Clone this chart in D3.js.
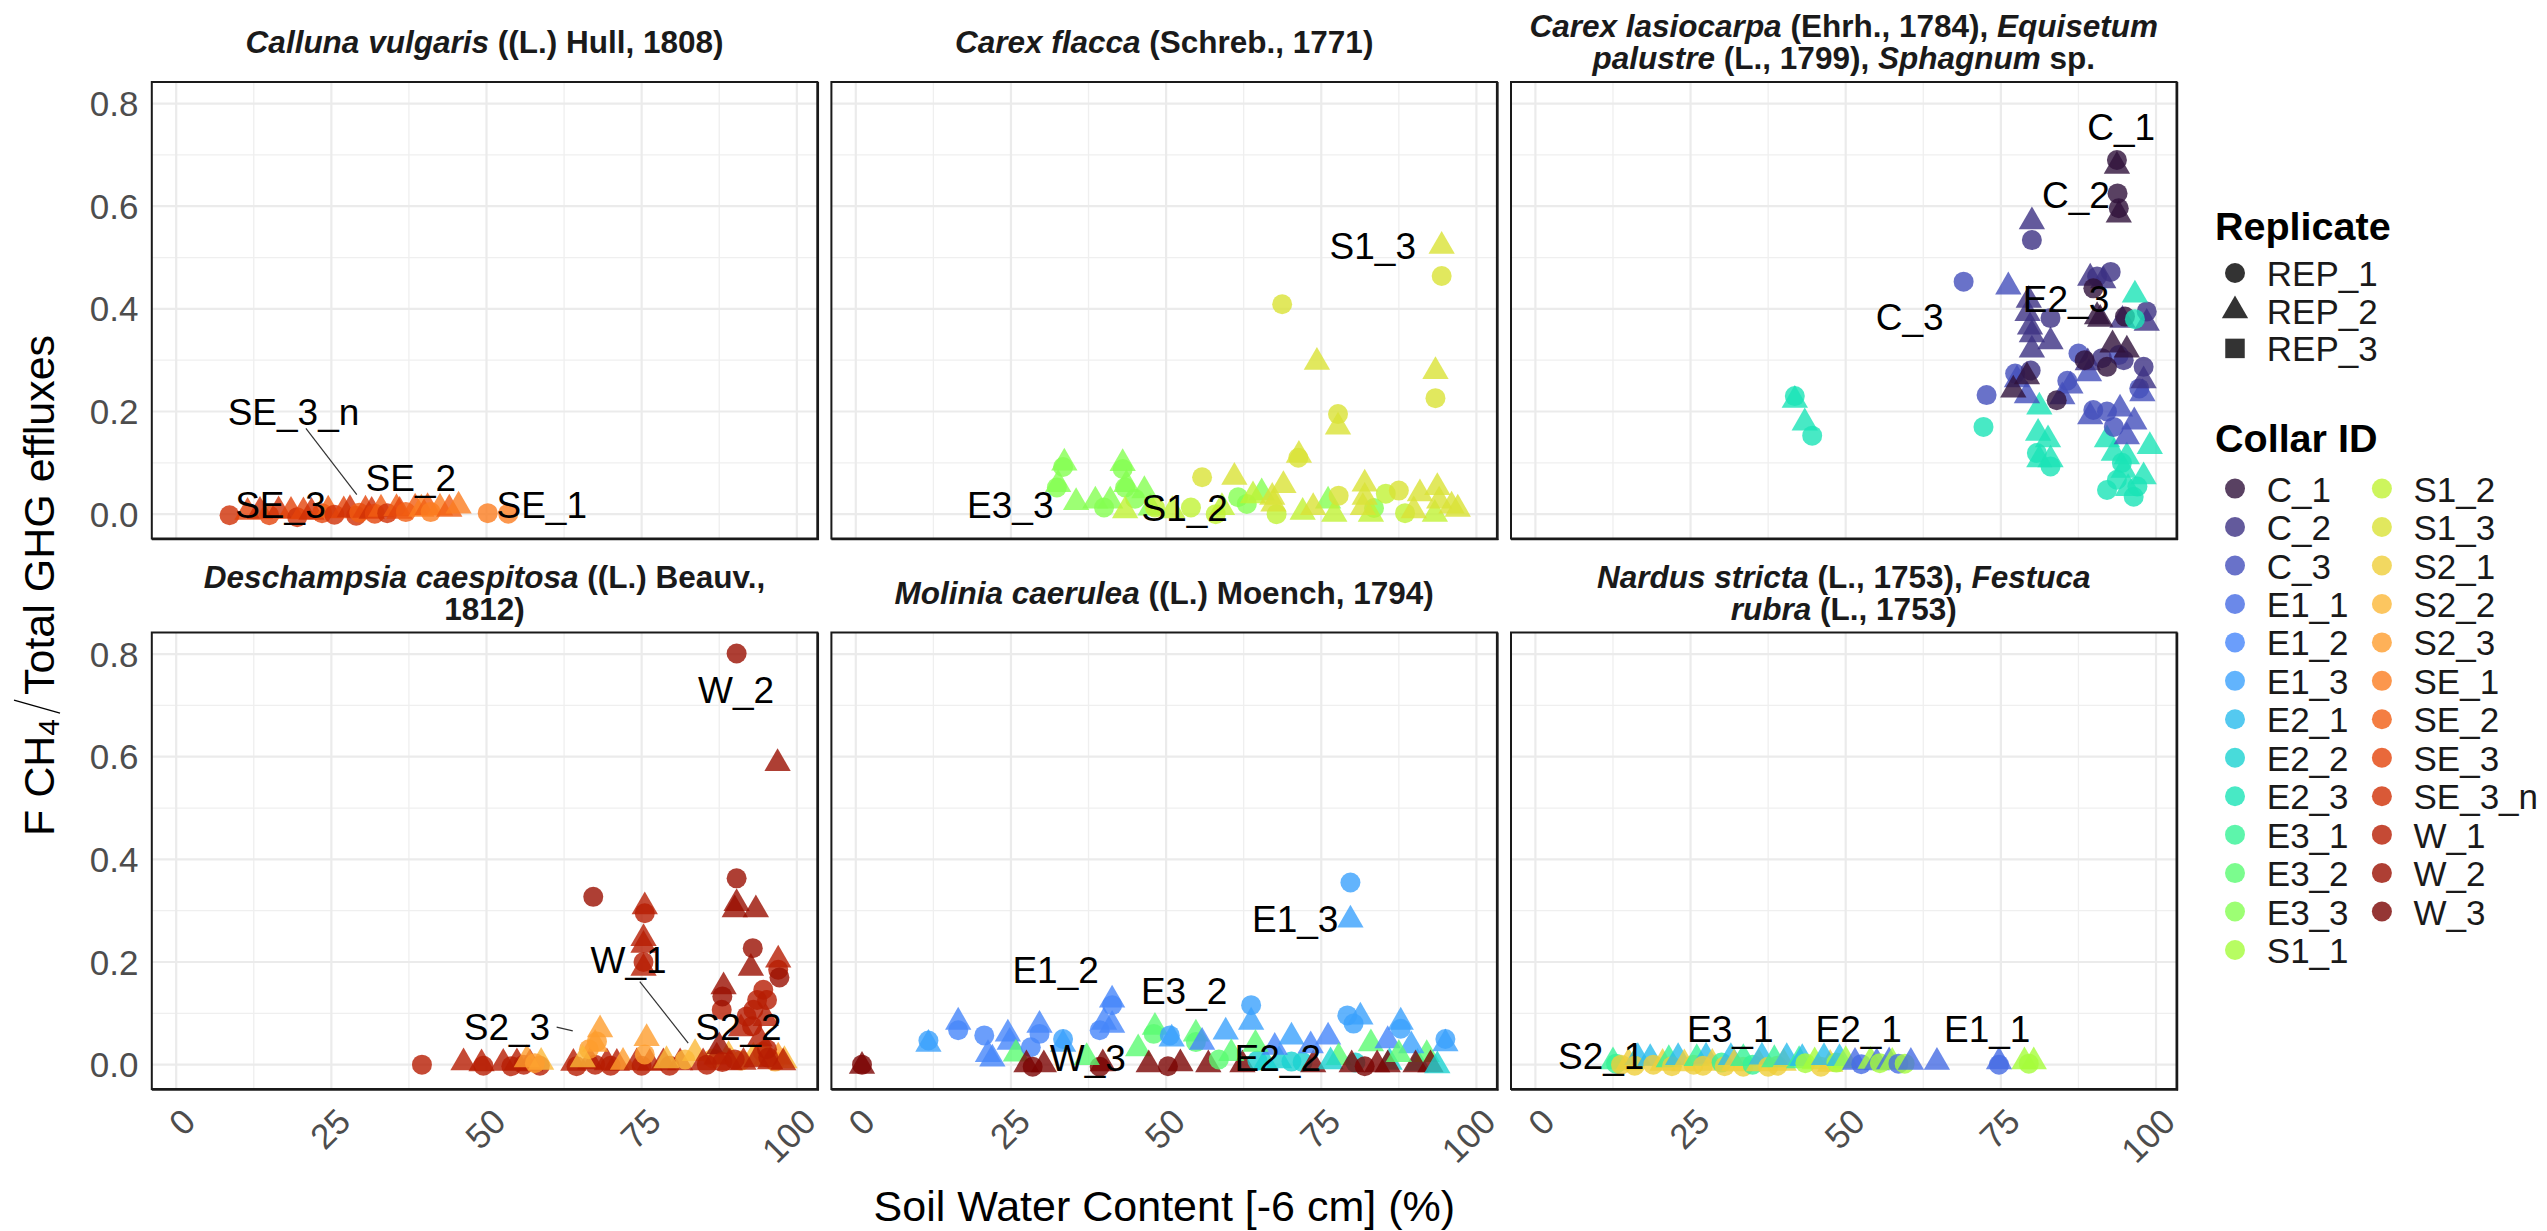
<!DOCTYPE html>
<html>
<head>
<meta charset="utf-8">
<script src="https://cdn.jsdelivr.net/npm/d3@7"></script>
<style>
  body { margin: 0; background: #ffffff; }
  svg { display: block; }
  text { font-family: "Liberation Sans", Arial, sans-serif; white-space: pre; }
</style>
</head>
<body>
<svg id="chart" width="2547" height="1231"></svg>
<script>
// ---------------- DATA ----------------
const collarIds = ["C_1","C_2","C_3","E1_1","E1_2","E1_3","E2_1","E2_2","E2_3","E3_1","E3_2","E3_3",
  "S1_1","S1_2","S1_3","S2_1","S2_2","S2_3","SE_1","SE_2","SE_3","SE_3_n","W_1","W_2","W_3"];
const collarColors = ["#30123B","#3C3183","#434FBB","#466BE3","#4686FA","#3BA1FD","#29BBEC","#1AD2D1",
  "#1AE4B6","#34F396","#5AFB72","#84FF51","#A5FC3B","#C1F234","#DAE236","#EFCE3A","#FBB838","#FE9D2E",
  "#FB7D20","#F15E13","#E3440A","#D02F05","#B71D02","#9A0F01","#7A0403"];
const replicateIds = ["REP_1","REP_2","REP_3"];
const xTickValues = [0, 25, 50, 75, 100];
const yTickValues = [0, 0.2, 0.4, 0.6, 0.8];
const yTickLabels = ["0.0","0.2","0.4","0.6","0.8"];

// panel titles: lines of [text, italic]
const titleCalluna = [[["Calluna vulgaris",1],[" ((L.) Hull, 1808)",0]]];
const titleCarexFlacca = [[["Carex flacca",1],[" (Schreb., 1771)",0]]];
const titleCarexLasio = [[["Carex lasiocarpa",1],[" (Ehrh., 1784), ",0],["Equisetum",1]],
                         [["palustre",1],[" (L., 1799), ",0],["Sphagnum",1],[" sp.",0]]];
const titleDeschampsia = [[["Deschampsia caespitosa",1],[" ((L.) Beauv.,",0]],[["1812)",0]]];
const titleMolinia = [[["Molinia caerulea",1],[" ((L.) Moench, 1794)",0]]];
const titleNardus = [[["Nardus stricta",1],[" (L., 1753), ",0],["Festuca",1]],[["rubra",1],[" (L., 1753)",0]]];

// points: [collar, replicate, soil water content, ratio]
const pointsCalluna = [
 ["SE_3_n",1,8.6,-0.002],["SE_3",2,11.5,0.004],["SE_3_n",2,13.5,0.006],["SE_3",1,15.0,-0.002],
 ["SE_3_n",2,16.5,0.007],["SE_3",2,18.5,0.006],["SE_3_n",1,19.5,-0.006],["SE_3",2,20.5,0.005],
 ["SE_3_n",2,21.8,0.004],["SE_3",1,23.5,0.002],["SE_2",2,24.5,0.008],["SE_3_n",1,25.5,-0.001],
 ["SE_3",2,27.0,0.007],["SE_3_n",2,28.0,0.009],["SE_3_n",1,29.0,-0.003],["SE_2",1,29.5,0.003],
 ["SE_3",2,30.5,0.008],["SE_3_n",2,31.5,0.006],["SE_3",1,32.0,0.001],["SE_2",2,33.0,0.010],
 ["SE_3_n",1,34.0,0.002],["SE_2",2,35.5,0.011],["SE_3",2,36.0,0.006],["SE_2",1,37.0,0.004],
 ["SE_2",2,38.5,0.012],["SE_1",2,39.5,0.010],["SE_2",2,40.5,0.013],["SE_1",1,41.0,0.004],
 ["SE_1",2,42.5,0.012],["SE_2",2,44.0,0.010],["SE_1",2,45.5,0.016],["SE_1",1,50.2,0.002],
 ["SE_1",1,53.5,0.001]
];
const pointsCarexFlacca = [
 ["E3_3",1,33.4,0.092],["E3_3",2,33.6,0.100],["E3_3",1,32.4,0.052],["E3_3",2,32.6,0.058],
 ["E3_3",2,35.5,0.023],["E3_3",2,38.6,0.026],["E3_3",1,40.0,0.013],["E3_3",2,41.0,0.026],
 ["E3_3",1,43.0,0.088],["E3_3",2,43.0,0.099],["E3_3",1,43.4,0.052],["E3_3",2,43.6,0.058],
 ["E3_3",2,46.5,0.046],["E3_3",1,45.0,0.030],["E3_3",1,61.6,0.033],["E3_3",2,65.4,0.042],
 ["E3_3",1,63.0,0.020],["E3_3",2,76.1,0.026],["E3_3",1,83.5,0.012],["E3_3",2,47.5,0.012],
 ["S1_2",2,43.4,0.007],["S1_2",1,48.2,0.013],["S1_2",2,51.0,0.007],["S1_2",1,54.0,0.013],
 ["S1_2",2,59.0,0.013],["S1_2",2,64.0,0.036],["S1_2",1,67.8,0.000],["S1_2",2,77.1,0.000],
 ["S1_2",2,83.0,0.000],["S1_2",1,85.4,0.040],["S1_2",2,93.3,0.000],["S1_2",1,58.0,0.000],
 ["S1_2",2,72.0,0.004],["S1_2",1,88.5,0.002],
 ["S1_3",1,55.8,0.072],["S1_3",2,61.0,0.072],["S1_3",2,67.1,0.033],["S1_3",2,67.3,0.020],
 ["S1_3",2,68.9,0.056],["S1_3",1,71.3,0.110],["S1_3",2,71.4,0.115],["S1_3",2,73.7,0.013],
 ["S1_3",1,77.7,0.195],["S1_3",2,77.7,0.170],["S1_3",1,77.8,0.036],["S1_3",2,82.0,0.059],
 ["S1_3",2,82.0,0.033],["S1_3",2,81.7,0.013],["S1_3",1,87.5,0.046],["S1_3",2,90.9,0.040],
 ["S1_3",2,89.9,0.007],["S1_3",2,93.7,0.052],["S1_3",2,94.0,0.026],["S1_3",2,96.0,0.016],
 ["S1_3",2,97.0,0.010],["S1_3",1,68.7,0.409],["S1_3",2,74.3,0.296],["S1_3",2,93.4,0.278],
 ["S1_3",1,93.4,0.226],["S1_3",2,94.4,0.522],["S1_3",1,94.4,0.464]
];
const pointsCarexLasio = [
 ["E2_3",1,41.8,0.230],["E2_3",2,41.8,0.222],["E2_3",2,43.4,0.178],["E2_3",1,44.6,0.153],
 ["E2_3",2,81.2,0.209],["E2_3",1,72.2,0.170],["E2_3",2,81.0,0.158],["E2_3",2,82.6,0.145],
 ["E2_3",1,80.8,0.119],["E2_3",2,83.0,0.106],["E2_3",2,81.2,0.106],["E2_3",1,83.0,0.093],
 ["E2_3",2,92.1,0.145],["E2_3",2,93.2,0.119],["E2_3",2,95.3,0.112],["E2_3",2,99.0,0.132],
 ["E2_3",1,93.7,0.067],["E2_3",1,92.1,0.047],["E2_3",1,96.4,0.034],["E2_3",2,94.8,0.086],
 ["E2_3",2,98.0,0.073],["E2_3",1,97.0,0.054],["E2_3",2,95.5,0.050],["E2_3",1,94.5,0.100],
 ["C_3",1,69.0,0.453],["C_3",2,76.2,0.443],["C_3",1,72.7,0.232],["C_3",1,77.3,0.274],
 ["C_3",2,77.6,0.262],["C_3",2,79.2,0.231],["C_3",1,87.5,0.313],["C_3",1,85.7,0.260],
 ["C_3",2,86.2,0.250],["C_3",2,84.9,0.229],["C_3",2,89.2,0.274],["C_3",1,89.9,0.203],
 ["C_3",1,92.1,0.200],["C_3",2,94.2,0.205],["C_3",2,89.4,0.190],["C_3",2,95.3,0.151],
 ["C_3",1,97.3,0.245],["C_3",2,97.8,0.235],["C_3",1,93.2,0.170],["C_3",1,94.0,0.310],
 ["C_3",2,96.5,0.180],
 ["C_2",2,80.0,0.570],["C_2",1,80.0,0.534],["C_2",1,90.5,0.463],["C_2",1,92.7,0.472],
 ["C_2",2,89.4,0.460],["C_2",2,79.5,0.417],["C_2",2,79.3,0.391],["C_2",2,79.7,0.365],
 ["C_2",2,80.0,0.320],["C_2",1,83.0,0.382],["C_2",2,83.0,0.336],["C_2",1,98.0,0.287],
 ["C_2",1,91.3,0.304],["C_2",1,94.8,0.300],["C_2",2,89.0,0.295],["C_2",2,80.0,0.350],
 ["C_2",2,98.0,0.260],["C_2",2,94.6,0.378],["C_2",2,98.5,0.372],["C_2",1,98.5,0.395],
 ["C_2",1,79.8,0.280],["C_2",2,91.5,0.455],
 ["C_1",1,93.7,0.690],["C_1",2,93.7,0.678],["C_1",1,93.8,0.625],["C_1",1,94.0,0.596],
 ["C_1",2,94.0,0.583],["C_1",2,90.5,0.385],["C_1",2,91.0,0.380],["C_1",2,79.2,0.268],
 ["C_1",2,77.0,0.242],["C_1",1,84.0,0.222],["C_1",1,92.1,0.287],["C_1",2,95.3,0.320],
 ["C_1",1,95.0,0.385],["C_1",1,89.9,0.440],["C_1",2,93.0,0.330],["C_1",1,88.5,0.300],
 ["E2_3",2,96.6,0.427],["E2_3",1,96.6,0.380]
];
const pointsDeschampsia = [
 ["W_1",1,39.6,0.000],["W_1",2,46.3,0.004],["W_1",2,49.2,0.002],["W_1",1,49.5,-0.002],
 ["W_1",2,52.7,0.003],["W_1",1,54.0,-0.003],["W_1",2,54.9,0.004],["W_1",1,56.0,0.000],
 ["W_1",2,57.0,0.002],["W_1",1,58.6,-0.002],["S2_3",2,56.5,0.010],["S2_2",2,58.8,0.005],
 ["S2_3",1,57.8,0.003],["W_1",2,64.0,0.003],["W_1",1,64.5,-0.003],["W_1",2,66.7,0.006],
 ["W_1",1,67.5,0.000],["W_1",2,69.4,0.004],["W_1",1,70.0,-0.002],["W_1",2,71.0,0.003],
 ["S2_3",1,66.5,0.030],["S2_3",2,67.5,0.040],["S2_3",2,68.3,0.068],["S2_3",1,67.8,0.045],
 ["S2_2",2,65.5,0.010],["S2_3",2,72.0,0.005],["W_1",2,74.2,0.004],["W_1",1,75.0,-0.002],
 ["W_1",2,76.3,0.003],["W_1",2,78.5,0.004],["W_1",1,79.5,-0.002],["W_1",2,81.2,0.004],
 ["S2_3",2,75.8,0.051],["S2_3",1,75.5,0.020],["S2_2",2,79.0,0.008],["S2_2",2,83.6,0.022],
 ["S2_2",1,82.0,0.010],["S2_2",1,86.5,0.012],["S2_2",2,89.0,0.018],["S2_2",1,91.0,0.008],
 ["S2_2",2,93.0,0.015],["S2_2",2,95.0,0.012],["S2_2",1,96.5,0.006],["S2_2",2,98.0,0.008],
 ["S2_3",2,97.0,0.015],["S2_3",1,94.5,0.025],
 ["W_1",2,84.9,0.004],["W_1",1,85.5,0.000],["W_1",2,87.1,0.015],["W_2",2,87.5,0.035],
 ["W_1",1,88.0,0.005],["W_1",2,89.2,0.004],["W_1",1,90.0,0.010],["W_1",2,91.4,0.005],
 ["W_1",2,93.5,0.010],["W_1",1,95.2,0.030],["W_1",2,95.7,0.006],["W_1",1,95.4,0.014],
 ["W_1",2,97.8,0.004],
 ["W_2",1,90.3,0.801],["W_2",2,96.9,0.587],["W_2",1,67.2,0.327],
 ["W_1",2,75.5,0.308],["W_1",1,75.5,0.295],["W_1",2,75.3,0.246],["W_1",2,75.3,0.233],
 ["W_1",1,75.3,0.200],["W_1",2,75.3,0.188],
 ["W_2",1,90.3,0.363],["W_2",2,90.3,0.314],["W_2",2,90.0,0.302],["W_2",2,93.4,0.302],
 ["W_2",1,92.9,0.227],["W_2",2,92.6,0.188],["W_1",2,97.0,0.204],["W_1",1,97.0,0.185],
 ["W_2",1,97.2,0.170],["W_2",2,88.2,0.152],
 ["W_1",1,94.6,0.146],["W_1",1,95.2,0.126],["W_1",1,93.6,0.126],["W_1",1,93.0,0.107],
 ["W_1",1,91.9,0.094],["W_1",1,87.9,0.107],["W_2",1,88.0,0.133],["W_1",2,91.0,0.070],
 ["W_1",1,92.8,0.075],["W_1",2,95.0,0.090],["W_1",2,94.0,0.050]
];
const pointsMolinia = [
 ["W_3",2,1.0,-0.003],["W_3",1,1.0,0.000],["E1_3",1,11.7,0.047],["E1_3",2,11.7,0.040],
 ["E1_2",2,16.5,0.083],["E1_2",1,16.5,0.067],["E1_2",1,20.7,0.057],["E1_2",2,21.3,0.020],
 ["E1_2",2,22.0,0.011],["E1_2",2,24.5,0.060],["E1_2",2,24.8,0.044],["E1_2",2,29.6,0.077],
 ["E1_2",1,29.6,0.060],["E1_3",1,33.4,0.050],["E1_3",2,33.4,0.040],["E3_2",2,25.8,0.021],
 ["E1_2",1,28.2,0.034],["W_3",2,27.5,0.000],["W_3",2,30.3,0.000],["W_3",1,28.5,-0.004],
 ["E1_2",2,41.3,0.126],["E1_2",1,41.3,0.116],["E1_2",2,40.0,0.083],["E1_2",2,41.3,0.077],
 ["E1_2",1,39.3,0.067],["W_3",1,39.3,-0.004],["W_3",2,39.8,0.002],["E3_2",2,37.2,0.014],
 ["E3_2",2,45.5,0.031],["E3_2",2,48.2,0.073],["E3_2",1,48.0,0.060],["E1_3",1,50.6,0.057],
 ["E1_3",2,50.9,0.050],["W_3",2,47.2,0.000],["W_3",1,50.3,-0.003],["W_3",2,52.3,0.002],
 ["E3_2",2,54.8,0.060],["E3_2",1,54.8,0.044],["E1_3",2,59.6,0.064],["E1_2",2,55.8,0.044],
 ["W_3",2,56.8,0.000],["E1_3",1,63.7,0.116],["E1_3",2,63.7,0.083],["W_3",2,62.3,0.000],
 ["E2_2",1,64.7,0.008],["E2_2",2,68.2,0.008],["E2_2",1,70.2,0.006],["E2_2",2,66.0,0.004],
 ["E2_2",1,72.0,0.005],["E1_2",2,67.5,0.034],["E1_3",2,70.2,0.054],["E3_2",2,64.4,0.040],
 ["W_3",2,73.7,0.000],["E1_2",2,73.3,0.037],["E1_2",2,76.1,0.054],["E1_3",1,79.2,0.096],
 ["E1_3",2,81.3,0.093],["E1_3",1,80.2,0.080],["E3_2",2,77.8,0.014],["E3_2",2,83.0,0.041],
 ["E2_2",2,76.5,0.006],["E2_2",1,80.5,0.004],["E2_2",2,86.0,0.005],["E2_2",2,90.5,0.003],
 ["E3_2",2,60.5,0.022],["E3_2",2,92.0,0.020],["E3_2",1,58.5,0.010],
 ["W_3",2,79.9,0.000],["W_3",1,82.0,-0.003],["W_3",2,84.0,0.000],["W_3",2,85.7,0.000],
 ["E1_3",2,87.8,0.083],["E1_3",1,87.8,0.070],["E1_2",2,85.7,0.047],["E1_3",2,89.5,0.037],
 ["W_3",2,90.2,0.000],["W_3",2,92.6,0.000],["E1_3",1,95.0,0.050],["E1_3",2,95.0,0.041],
 ["E2_2",2,93.7,-0.002],["E3_2",2,87.5,0.020],["E1_3",1,79.7,0.355],["E1_3",2,79.7,0.282]
];
const pointsNardus = [
 ["E3_1",2,12.5,0.006],["E3_1",1,13.0,0.002],["S2_1",1,13.8,0.000],["S2_1",2,15.0,0.004],
 ["E2_1",2,16.5,0.014],["S2_1",1,16.0,-0.002],["E2_1",2,18.5,0.012],["S2_1",1,19.0,0.000],
 ["S2_1",2,20.5,0.003],["E3_1",2,21.5,0.010],["S2_1",1,22.0,-0.003],["E2_1",2,23.0,0.014],
 ["S2_1",2,24.0,0.002],["S2_1",1,25.5,0.000],["E3_1",2,26.0,0.012],["E2_1",2,27.5,0.015],
 ["S2_1",1,27.0,-0.002],["S2_1",2,28.5,0.003],["E3_1",1,30.0,0.004],["S2_1",1,30.5,-0.003],
 ["E2_1",2,31.5,0.014],["S2_1",2,32.0,0.002],["S2_1",1,33.5,-0.004],["E3_1",2,33.5,0.012],
 ["E3_1",1,35.0,0.000],["S2_1",2,36.0,0.002],["E2_1",2,36.5,0.015],["S2_1",1,37.5,-0.004],
 ["S2_1",1,39.0,-0.002],["E3_1",2,38.5,0.010],["S2_1",2,40.0,0.003],["E2_1",2,40.5,0.014],
 ["E3_1",2,42.5,0.008],["E2_1",2,43.0,0.012],["S1_1",1,43.5,0.003],["S1_1",2,45.0,0.006],
 ["S2_1",1,46.0,-0.004],["S2_1",2,47.5,0.001],["E2_1",2,46.5,0.014],["S1_1",1,48.5,0.004],
 ["E2_1",2,49.0,0.012],["S1_1",2,50.0,0.008],["E1_1",2,51.5,0.005],["E1_1",1,52.5,0.001],
 ["S1_1",2,54.0,0.007],["E1_1",2,55.0,0.004],["S1_1",1,55.5,0.003],["E1_1",2,57.0,0.006],
 ["S1_1",2,57.5,0.005],["E1_1",1,58.5,0.002],["S1_1",1,59.5,0.002],["E1_1",2,60.5,0.005],
 ["E1_1",2,64.7,0.005],["E1_1",2,74.7,0.006],["E1_1",1,74.7,0.000],["S1_1",2,78.8,0.006],
 ["S1_1",2,80.3,0.006],["S1_1",1,79.5,0.002]
];

// repelled labels: [text, x, y(baseline), optional segment x1,y1,x2,y2]
const labelsCalluna = [["SE_3_n",18.9,0.174,20.9,0.167,29.1,0.038],["SE_2",37.8,0.045],["SE_3",16.8,-0.007],["SE_1",58.9,-0.007]];
const labelsCarexFlacca = [["S1_3",83.3,0.4975],["E3_3",24.9,-0.0067],["S1_2",53.0,-0.013]];
const labelsCarexLasio = [["C_1",94.4,0.729],["C_2",87.1,0.596],["E2_3",85.5,0.3945],["C_3",60.3,0.358]];
const labelsDeschampsia = [["W_2",90.2,0.704],["W_1",72.9,0.178,74.7,0.162,82.5,0.042],["S2_3",53.3,0.048,61.3,0.073,63.9,0.066],["S2_2",90.6,0.048]];
const labelsMolinia = [["E1_2",32.2,0.159],["E3_2",52.9,0.119],["W_3",37.4,-0.012],["E2_2",68.0,-0.012],["E1_3",70.8,0.258]];
const labelsNardus = [["S2_1",10.6,-0.009],["E3_1",31.4,0.044],["E2_1",52.1,0.044],["E1_1",72.8,0.044]];

// ---------------- DRAWING ----------------
const panels = [
  {title: titleCalluna, pts: pointsCalluna, labels: labelsCalluna},
  {title: titleCarexFlacca, pts: pointsCarexFlacca, labels: labelsCarexFlacca},
  {title: titleCarexLasio, pts: pointsCarexLasio, labels: labelsCarexLasio},
  {title: titleDeschampsia, pts: pointsDeschampsia, labels: labelsDeschampsia},
  {title: titleMolinia, pts: pointsMolinia, labels: labelsMolinia},
  {title: titleNardus, pts: pointsNardus, labels: labelsNardus}
];

const W = 665.5, H = 456.5;
const colLeft = [151.8, 831.4, 1511.0];
const rowTop = [82, 632.5];
const x = d3.scaleLinear().domain([-3.93, 103.3]).range([0, W]);
const y = d3.scaleLinear().domain([-0.0474, 0.842]).range([H, 0]);
const color = d3.scaleOrdinal().domain(collarIds).range(collarColors);
const shape = d3.scaleOrdinal().domain(replicateIds).range([d3.symbolCircle, d3.symbolTriangle, d3.symbolSquare]);
const shapeSize = {REP_1: 314, REP_2: 300, REP_3: 380};
const ALPHA = 0.8;

const svg = d3.select("#chart");
svg.append("rect").attr("width", 2547).attr("height", 1231).attr("fill", "#fff");

const xMinor = [12.5, 37.5, 62.5, 87.5];
const yMinor = [0.1, 0.3, 0.5, 0.7];

panels.forEach((p, i) => {
  const col = i % 3, row = Math.floor(i / 3);
  const g = svg.append("g").attr("transform", `translate(${colLeft[col]},${rowTop[row]})`);

  // minor grid
  g.selectAll(".vmin").data(xMinor).enter().append("line")
    .attr("x1", d => x(d)).attr("x2", d => x(d)).attr("y1", 0).attr("y2", H)
    .attr("stroke", "#EFEFEF").attr("stroke-width", 1.3);
  g.selectAll(".hmin").data(yMinor).enter().append("line")
    .attr("y1", d => y(d)).attr("y2", d => y(d)).attr("x1", 0).attr("x2", W)
    .attr("stroke", "#EFEFEF").attr("stroke-width", 1.3);
  // major grid
  g.selectAll(".vmaj").data(xTickValues).enter().append("line")
    .attr("x1", d => x(d)).attr("x2", d => x(d)).attr("y1", 0).attr("y2", H)
    .attr("stroke", "#EBEBEB").attr("stroke-width", 2.2);
  g.selectAll(".hmaj").data(yTickValues).enter().append("line")
    .attr("y1", d => y(d)).attr("y2", d => y(d)).attr("x1", 0).attr("x2", W)
    .attr("stroke", "#EBEBEB").attr("stroke-width", 2.2);

  // points
  g.selectAll(".pt").data(p.pts).enter().append("path")
    .attr("d", d => d3.symbol().type(shape(replicateIds[d[1]-1])).size(shapeSize[replicateIds[d[1]-1]])())
    .attr("transform", d => `translate(${x(d[2])},${y(d[3])})`)
    .attr("fill", d => color(d[0]))
    .attr("fill-opacity", ALPHA);

  // label segments
  p.labels.filter(l => l.length > 3).forEach(l => {
    g.append("line").attr("x1", x(l[3])).attr("y1", y(l[4])).attr("x2", x(l[5])).attr("y2", y(l[6]))
      .attr("stroke", "#333").attr("stroke-width", 1.2);
  });
  // labels
  g.selectAll(".lab").data(p.labels).enter().append("text")
    .attr("x", d => x(d[1])).attr("y", d => y(d[2]))
    .attr("text-anchor", "middle").attr("font-size", 37).attr("fill", "#000")
    .text(d => d[0]);

  // panel border
  g.append("rect").attr("x", 0).attr("y", 0).attr("width", W).attr("height", H)
    .attr("fill", "none").attr("stroke", "#1a1a1a").attr("stroke-width", 2);
  g.append("line").attr("x1", 0).attr("x2", W + 1.5).attr("y1", H + 1).attr("y2", H + 1)
    .attr("stroke", "#1a1a1a").attr("stroke-width", 1.5);
  g.append("line").attr("x1", W + 1).attr("x2", W + 1).attr("y1", 0).attr("y2", H + 1.5)
    .attr("stroke", "#1a1a1a").attr("stroke-width", 1.5);

  // strip title
  const nLines = p.title.length;
  const center = rowTop[row] - 29;
  p.title.forEach((line, k) => {
    const t = svg.append("text")
      .attr("x", colLeft[col] + W / 2)
      .attr("y", center + (k - (nLines - 1) / 2) * 32)
      .attr("text-anchor", "middle").attr("font-size", 31.5).attr("font-weight", "bold")
      .attr("fill", "#1a1a1a");
    line.forEach(seg => {
      t.append("tspan").attr("font-style", seg[1] ? "italic" : "normal").text(seg[0]);
    });
  });

  // y tick labels (left column)
  if (col === 0) {
    svg.selectAll(null).data(yTickValues).enter().append("text")
      .attr("x", colLeft[0] - 13.3)
      .attr("y", d => rowTop[row] + y(d) + 12.5)
      .attr("text-anchor", "end").attr("font-size", 35).attr("fill", "#4D4D4D")
      .text((d, j) => yTickLabels[j]);
  }
  // x tick labels (bottom row)
  if (row === 1) {
    svg.selectAll(null).data(xTickValues).enter().append("text")
      .attr("transform", d => `translate(${colLeft[col] + x(d) + 3.6},${rowTop[1] + H + 17}) rotate(-45)`)
      .attr("dy", 25)
      .attr("text-anchor", "end").attr("font-size", 35).attr("fill", "#4D4D4D")
      .text(d => d);
  }
});

// x axis title
svg.append("text").attr("x", 1164.3).attr("y", 1221)
  .attr("text-anchor", "middle").attr("font-size", 43).attr("fill", "#000")
  .text("Soil Water Content [-6 cm] (%)");

// y axis title (built from pieces)
const yt = svg.append("g").attr("transform", "translate(54,585.5) rotate(-90)");
const pieces = [];
const t1 = yt.append("text").attr("font-size", 43).attr("fill", "#000").text("F CH");
const t2 = yt.append("text").attr("font-size", 30).attr("fill", "#000").attr("dy", 5).text("4");
const t3 = yt.append("text").attr("font-size", 43).attr("fill", "#000").text("Total GHG effluxes");
const w1 = t1.node().getComputedTextLength();
const w2 = t2.node().getComputedTextLength();
const w3 = t3.node().getComputedTextLength();
const gap1 = 6, slashW = 13, gap2 = 5;
const total = w1 + w2 + gap1 + slashW + gap2 + w3;
let cx = -total / 2;
t1.attr("x", cx); cx += w1;
t2.attr("x", cx); cx += w2 + gap1;
yt.append("line").attr("x1", cx).attr("y1", 6).attr("x2", cx + slashW).attr("y2", -40)
  .attr("stroke", "#000").attr("stroke-width", 1.3);
cx += slashW + gap2;
t3.attr("x", cx);

// ---------------- LEGEND ----------------
const lg = svg.append("g");
lg.append("text").attr("x", 2215).attr("y", 240).attr("font-size", 39.5).attr("font-weight", "bold")
  .attr("fill", "#000").text("Replicate");
const repY = [273, 310.7, 348.4];
replicateIds.forEach((r, k) => {
  lg.append("path").attr("d", d3.symbol().type(shape(r)).size(shapeSize[r])())
    .attr("transform", `translate(2235,${repY[k]})`).attr("fill", "#000").attr("fill-opacity", ALPHA);
  lg.append("text").attr("x", 2266.8).attr("y", repY[k] + 13).attr("font-size", 35)
    .attr("fill", "#1a1a1a").text(r);
});
lg.append("text").attr("x", 2215).attr("y", 452).attr("font-size", 39.5).attr("font-weight", "bold")
  .attr("fill", "#000").text("Collar ID");
collarIds.forEach((c, k) => {
  const colIdx = k < 13 ? 0 : 1;
  const rowIdx = k < 13 ? k : k - 13;
  const cy = 488.6 + rowIdx * 38.45;
  const kx = colIdx === 0 ? 2235 : 2381.9;
  const tx = colIdx === 0 ? 2266.8 : 2413.5;
  lg.append("circle").attr("cx", kx).attr("cy", cy).attr("r", 10)
    .attr("fill", color(c)).attr("fill-opacity", ALPHA);
  lg.append("text").attr("x", tx).attr("y", cy + 13).attr("font-size", 35)
    .attr("fill", "#1a1a1a").text(c);
});
</script>
</body>
</html>
